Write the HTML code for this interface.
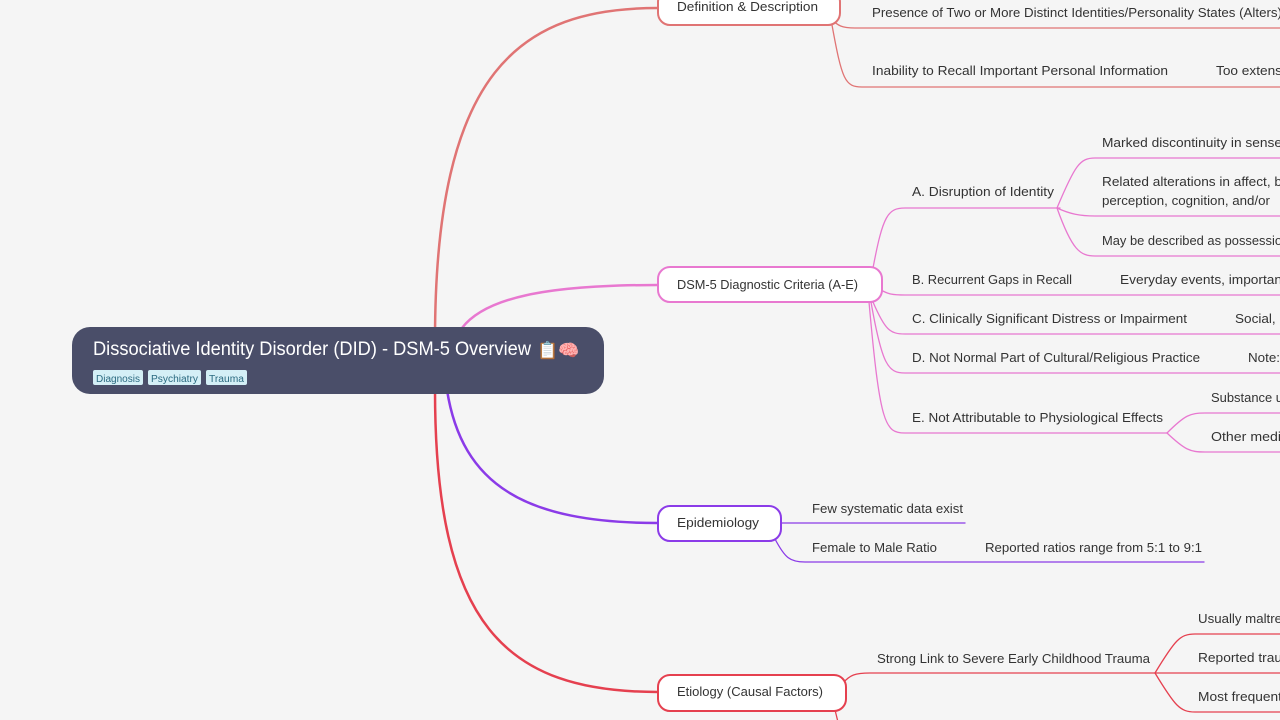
<!DOCTYPE html>
<html><head><meta charset="utf-8"><style>
html,body{margin:0;padding:0;background:#f5f5f5;width:1280px;height:720px;overflow:hidden}
svg{display:block}
text{font-family:"Liberation Sans",sans-serif;font-size:13px;fill:#333}
</style></head><body>
<svg width="1280" height="720" viewBox="0 0 1280 720" xmlns="http://www.w3.org/2000/svg">
<g fill="none" stroke-linecap="round">
<!-- main branches -->
<path d="M435,340 C435,70 520,8 658,8" stroke="#e07474" stroke-width="2.5"/>
<path d="M462,328 C485,298 545,285 658,285" stroke="#e878d0" stroke-width="2.5"/>
<path d="M447,390 C462,485 525,523 658,523" stroke="#8b3be8" stroke-width="2.5"/>
<path d="M435,390 C435,625 505,692 658,692" stroke="#e5404f" stroke-width="2.5"/>
<!-- definition children -->
<g stroke="#e07474" stroke-width="1.3">
<path d="M830,18 C838,26 842,28 855,28 L1280,28"/>
<path d="M832,25 C842,80 845,87 862,87 L1280,87"/>
</g>
<!-- DSM children -->
<g stroke="#e878d0" stroke-width="1.3">
<path d="M873,268 C883,215 888,208 905,208 L1060,208"/>
<path d="M1057,208 C1075,165 1080,158 1095,158 L1280,158"/>
<path d="M1057,208 C1070,214 1080,216 1095,216 L1280,216"/>
<path d="M1057,208 C1072,250 1080,256 1095,256 L1280,256"/>
<path d="M881,290 C888,294 892,295 905,295 L1280,295"/>
<path d="M873,302 C885,330 890,334 905,334 L1280,334"/>
<path d="M871,302 C882,365 888,373 905,373 L1280,373"/>
<path d="M869,302 C880,425 885,433 905,433 L1167,433"/>
<path d="M1167,433 C1185,415 1190,413 1205,413 L1280,413"/>
<path d="M1167,433 C1185,450 1190,452 1205,452 L1280,452"/>
</g>
<!-- Epidemiology children -->
<g stroke="#8b3be8" stroke-width="1.3">
<path d="M781,523 L965,523"/>
<path d="M775,539 C785,558 790,562 805,562 L1204,562"/>
</g>
<!-- Etiology children -->
<g stroke="#e5404f" stroke-width="1.3">
<path d="M843,683 C850,675 855,673 870,673 L1155,673"/>
<path d="M1155,673 C1175,640 1180,634 1195,634 L1280,634"/>
<path d="M1155,673 L1280,673"/>
<path d="M1155,673 C1175,706 1180,712 1195,712 L1280,712"/>
<path d="M835,710 L838,722"/>
</g>
</g>
<!-- root -->
<rect x="72" y="327" width="532" height="67" rx="18" fill="#4a4e69"/>
<text x="93" y="355" style="font-size:19px;fill:#fff" textLength="438" lengthAdjust="spacingAndGlyphs">Dissociative Identity Disorder (DID) - DSM-5 Overview</text>
<text x="537" y="356" style="font-size:17px;fill:#fff">📋🧠</text>
<g>
<rect x="93" y="370" width="50" height="15" rx="2" fill="#d4eff6"/>
<rect x="148" y="370" width="53" height="15" rx="2" fill="#d4eff6"/>
<rect x="206" y="370" width="41" height="15" rx="2" fill="#d4eff6"/>
<text x="96" y="382" style="font-size:10px;fill:#2b6a80" textLength="44" lengthAdjust="spacingAndGlyphs">Diagnosis</text>
<text x="151" y="382" style="font-size:10px;fill:#2b6a80" textLength="47" lengthAdjust="spacingAndGlyphs">Psychiatry</text>
<text x="209" y="382" style="font-size:10px;fill:#2b6a80" textLength="35" lengthAdjust="spacingAndGlyphs">Trauma</text>
</g>
<!-- main nodes -->
<rect x="658" y="-10" width="182" height="35" rx="12" fill="#fff" stroke="#e07474" stroke-width="2"/>
<rect x="658" y="267" width="224" height="35" rx="12" fill="#fff" stroke="#e878d0" stroke-width="2"/>
<rect x="658" y="506" width="123" height="35" rx="12" fill="#fff" stroke="#8b3be8" stroke-width="2"/>
<rect x="658" y="675" width="188" height="36" rx="12" fill="#fff" stroke="#e5404f" stroke-width="2"/>
<text x="677" y="11" textLength="141" lengthAdjust="spacingAndGlyphs">Definition &amp; Description</text>
<text x="677" y="289" textLength="181" lengthAdjust="spacingAndGlyphs">DSM-5 Diagnostic Criteria (A-E)</text>
<text x="677" y="527" textLength="82" lengthAdjust="spacingAndGlyphs">Epidemiology</text>
<text x="677" y="696" textLength="146" lengthAdjust="spacingAndGlyphs">Etiology (Causal Factors)</text>
<!-- definition texts -->
<text x="872" y="17" textLength="410" lengthAdjust="spacingAndGlyphs">Presence of Two or More Distinct Identities/Personality States (Alters)</text>
<text x="872" y="75" textLength="296" lengthAdjust="spacingAndGlyphs">Inability to Recall Important Personal Information</text>
<text x="1216" y="75" textLength="66" lengthAdjust="spacingAndGlyphs">Too extens</text>
<!-- DSM texts -->
<text x="912" y="196" textLength="142" lengthAdjust="spacingAndGlyphs">A. Disruption of Identity</text>
<text x="1102" y="147" textLength="180" lengthAdjust="spacingAndGlyphs">Marked discontinuity in sense</text>
<text x="1102" y="186" textLength="180" lengthAdjust="spacingAndGlyphs">Related alterations in affect, b</text>
<text x="1102" y="205" textLength="168" lengthAdjust="spacingAndGlyphs">perception, cognition, and/or</text>
<text x="1102" y="245" textLength="180" lengthAdjust="spacingAndGlyphs">May be described as possessio</text>
<text x="912" y="284" textLength="160" lengthAdjust="spacingAndGlyphs">B. Recurrent Gaps in Recall</text>
<text x="1120" y="284" textLength="162" lengthAdjust="spacingAndGlyphs">Everyday events, importan</text>
<text x="912" y="323" textLength="275" lengthAdjust="spacingAndGlyphs">C. Clinically Significant Distress or Impairment</text>
<text x="1235" y="323" textLength="52" lengthAdjust="spacingAndGlyphs">Social, o</text>
<text x="912" y="362" textLength="288" lengthAdjust="spacingAndGlyphs">D. Not Normal Part of Cultural/Religious Practice</text>
<text x="1248" y="362" textLength="32" lengthAdjust="spacingAndGlyphs">Note:</text>
<text x="912" y="422" textLength="251" lengthAdjust="spacingAndGlyphs">E. Not Attributable to Physiological Effects</text>
<text x="1211" y="402" textLength="72" lengthAdjust="spacingAndGlyphs">Substance u</text>
<text x="1211" y="441" textLength="70" lengthAdjust="spacingAndGlyphs">Other medi</text>
<!-- Epidemiology texts -->
<text x="812" y="513" textLength="151" lengthAdjust="spacingAndGlyphs">Few systematic data exist</text>
<text x="812" y="552" textLength="125" lengthAdjust="spacingAndGlyphs">Female to Male Ratio</text>
<text x="985" y="552" textLength="217" lengthAdjust="spacingAndGlyphs">Reported ratios range from 5:1 to 9:1</text>
<!-- Etiology texts -->
<text x="877" y="663" textLength="273" lengthAdjust="spacingAndGlyphs">Strong Link to Severe Early Childhood Trauma</text>
<text x="1198" y="623" textLength="84" lengthAdjust="spacingAndGlyphs">Usually maltre</text>
<text x="1198" y="662" textLength="84" lengthAdjust="spacingAndGlyphs">Reported trau</text>
<text x="1198" y="701" textLength="84" lengthAdjust="spacingAndGlyphs">Most frequent</text>
</svg>
</body></html>
